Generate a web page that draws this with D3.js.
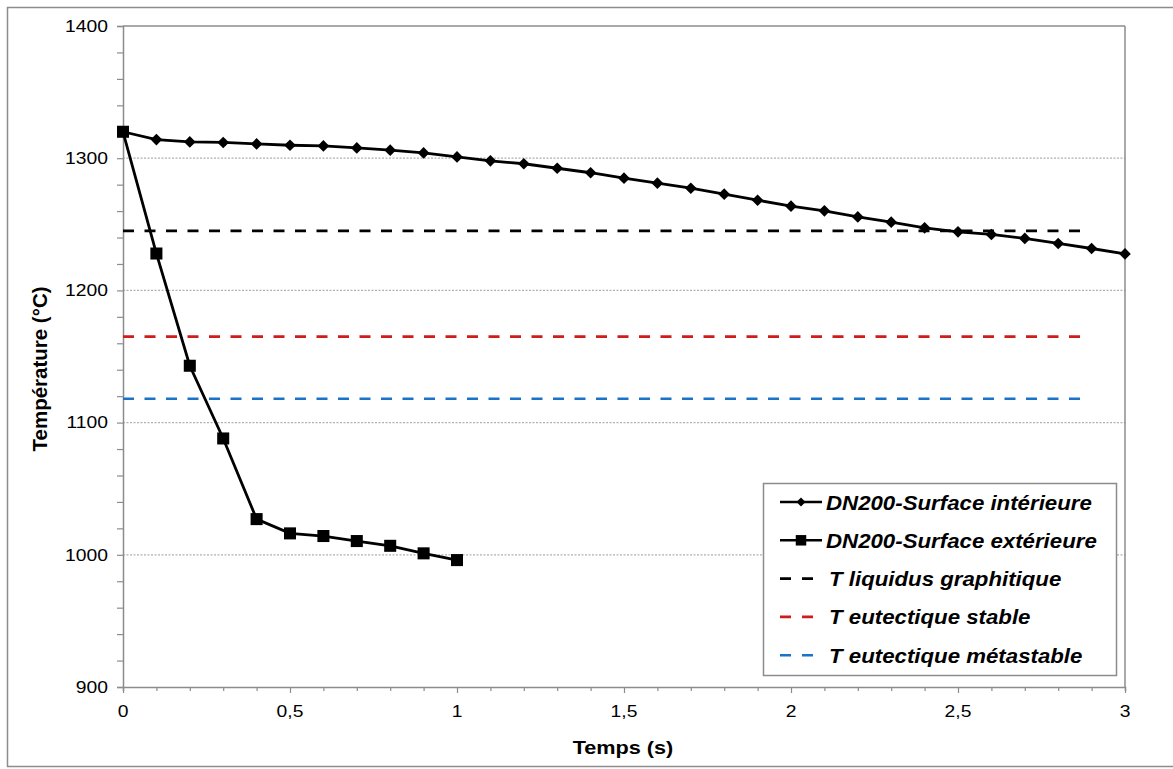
<!DOCTYPE html>
<html>
<head>
<meta charset="utf-8">
<script src="https://cdn.jsdelivr.net/npm/d3@7/dist/d3.min.js"></script>
<style>
  html, body { margin: 0; padding: 0; background: #fff; }
  svg { display: block; }
  text { font-family: "Liberation Sans", Arial, Helvetica, sans-serif; fill: #000; }
</style>
</head>
<body>
<svg id="chart" width="1173" height="769"></svg>
<script>
// ---- Data ----
const timeInner = [0,0.1,0.2,0.3,0.4,0.5,0.6,0.7,0.8,0.9,1.0,1.1,1.2,1.3,1.4,1.5,1.6,1.7,1.8,1.9,2.0,2.1,2.2,2.3,2.4,2.5,2.6,2.7,2.8,2.9,3.0];
const tempInner = [1320,1314.1,1312.3,1311.9,1310.8,1309.8,1309.3,1307.8,1306.1,1304,1301,1298,1295.8,1292.4,1289,1284.9,1281.1,1277.3,1272.8,1268.2,1263.7,1260.2,1255.6,1251.6,1247.3,1244.3,1242.3,1239.3,1235.5,1231.7,1227.6];
const timeOuter = [0,0.1,0.2,0.3,0.4,0.5,0.6,0.7,0.8,0.9,1.0];
const tempOuter = [1320,1227.9,1143,1088,1027,1016.2,1014.2,1010.4,1006.8,1001.1,996];
const refTimes = [0, 2.87];
const tLiquidus = 1245;
const tEutStable = 1165;
const tEutMeta = 1118;
const seriesNames = ["DN200-Surface intérieure","DN200-Surface extérieure","T liquidus graphitique","T eutectique stable","T eutectique métastable"];
const xTicks = [0,0.5,1,1.5,2,2.5,3];
const yTicks = [900,1000,1100,1200,1300,1400];
const xLabel = "Temps (s)";
const yLabel = "Température (°C)";

// ---- Layout ----
const svg = d3.select("#chart");
const L = 123, R = 1125, T = 26, B = 687;
const x = d3.scaleLinear().domain([0,3]).range([L,R]);
const y = d3.scaleLinear().domain([900,1400]).range([B,T]);
const fmt = d => String(d).replace(".", ",");
const axisColor = "#8c8c8c";
const FONT = '"Liberation Sans", Arial, sans-serif';
// horizontally widened text (reference glyphs are wider than plain Arial)
function wideText(parent, px, py, k, str) {
  return parent.append("g").attr("transform", `translate(${px},${py}) scale(${k},1)`)
    .append("text").attr("x", 0).attr("y", 0).text(str);
}

// outer frame
svg.append("rect").attr("x",7.5).attr("y",7.5).attr("width",1170).attr("height",759)
  .attr("fill","none").attr("stroke","#8c8c8c").attr("stroke-width",1.5);

// gridlines
svg.append("g").selectAll("line").data(yTicks.filter(d => d > 900 && d < 1400)).join("line")
  .attr("x1",L).attr("x2",R).attr("y1",d=>y(d)).attr("y2",d=>y(d))
  .attr("stroke","#b0b0b0").attr("stroke-width",1.2).attr("stroke-dasharray","2,1.5");

// plot border top/right
svg.append("line").attr("x1",L).attr("x2",R).attr("y1",T).attr("y2",T).attr("stroke",axisColor).attr("stroke-width",1.5);
svg.append("line").attr("x1",R).attr("x2",R).attr("y1",T).attr("y2",B).attr("stroke",axisColor).attr("stroke-width",1.5);

// Y axis
const yAxis = svg.append("g").attr("transform",`translate(${L},0)`)
  .call(d3.axisLeft(y).tickValues(d3.range(900,1401,20)).tickSize(6).tickFormat(""));
yAxis.select(".domain").attr("stroke",axisColor).attr("stroke-width",1.5);
yAxis.selectAll(".tick line").attr("stroke",axisColor).attr("stroke-width",1.2);
yTicks.forEach(v => {
  wideText(svg, L - 15, y(v), 1.17, v).attr("text-anchor","end").attr("dy","0.35em")
    .attr("font-size",16.5).style("font-family",FONT);
});

// X axis
const xAxis = svg.append("g").attr("transform",`translate(0,${B})`)
  .call(d3.axisBottom(x).tickValues(d3.range(0,31).map(i=>i/10)).tickSize(4).tickFormat(""));
xAxis.select(".domain").attr("stroke",axisColor).attr("stroke-width",1.5);
xAxis.selectAll(".tick line").attr("stroke",axisColor).attr("stroke-width",1.2)
  .attr("y2", d => xTicks.some(t => Math.abs(t-d)<1e-9) ? 6 : 4);
xTicks.forEach(v => {
  wideText(svg, x(v), B + 18, 1.17, fmt(v)).attr("text-anchor","middle").attr("dy","0.71em")
    .attr("font-size",16.5).style("font-family",FONT);
});

// reference dashed lines
const refs = [[tLiquidus,"#000"],[tEutStable,"#d01c1c"],[tEutMeta,"#1a73c8"]];
svg.append("g").selectAll("line").data(refs).join("line")
  .attr("x1",x(refTimes[0])).attr("x2",x(refTimes[1]))
  .attr("y1",d=>y(d[0])).attr("y2",d=>y(d[0]))
  .attr("stroke",d=>d[1]).attr("stroke-width",2.6).attr("stroke-dasharray","11,10.5");

// series lines
const line = d3.line().x(d=>x(d[0])).y(d=>y(d[1]));
const inner = timeInner.map((t,i)=>[t,tempInner[i]]);
const outer = timeOuter.map((t,i)=>[t,tempOuter[i]]);
svg.append("path").datum(inner).attr("d",line).attr("fill","none").attr("stroke","#000").attr("stroke-width",2.8);
svg.append("path").datum(outer).attr("d",line).attr("fill","none").attr("stroke","#000").attr("stroke-width",2.8);

svg.append("g").selectAll("path").data(inner).join("path")
  .attr("d", d3.symbol().type(d3.symbolSquare).size(68))
  .attr("transform",d=>`translate(${x(d[0])},${y(d[1])}) rotate(45)`)
  .attr("fill","#000");
svg.append("g").selectAll("path").data(outer).join("path")
  .attr("d", d3.symbol().type(d3.symbolSquare).size(145))
  .attr("transform",d=>`translate(${x(d[0])},${y(d[1])})`)
  .attr("fill","#000");

// legend
const lg = svg.append("g");
lg.append("rect").attr("x",763.5).attr("y",483.5).attr("width",353).attr("height",192)
  .attr("fill","#fff").attr("stroke","#8c8c8c").attr("stroke-width",1.5);
const legendItems = [
  {name:seriesNames[0], color:"#000", dash:null, sym:"diamond"},
  {name:seriesNames[1], color:"#000", dash:null, sym:"square"},
  {name:seriesNames[2], color:"#000", dash:"11,11", sym:null},
  {name:seriesNames[3], color:"#d01c1c", dash:"11,11", sym:null},
  {name:seriesNames[4], color:"#1a73c8", dash:"11,11", sym:null}
];
legendItems.forEach((it,i) => {
  const cy = 502 + i*38.3;
  const l = lg.append("line").attr("x1",780).attr("x2",822).attr("y1",cy).attr("y2",cy)
    .attr("stroke",it.color).attr("stroke-width",2.6);
  if (it.dash) l.attr("stroke-dasharray",it.dash);
  if (it.sym==="diamond") lg.append("path").attr("d",d3.symbol().type(d3.symbolSquare).size(40))
    .attr("transform",`translate(801,${cy}) rotate(45)`).attr("fill","#000");
  if (it.sym==="square") lg.append("path").attr("d",d3.symbol().type(d3.symbolSquare).size(110))
    .attr("transform",`translate(801,${cy})`).attr("fill","#000");
  wideText(lg, it.dash ? 829 : 826, cy, 1.06, it.name).attr("dy","0.36em")
    .attr("font-size",21).attr("font-weight","bold").attr("font-style","italic");
});

// axis titles
wideText(svg, (L+R)/2 - 1, 754, 1.14, xLabel).attr("text-anchor","middle")
  .attr("font-size",19).attr("font-weight","bold");
svg.append("text").attr("transform",`translate(47,369) rotate(-90)`).attr("text-anchor","middle")
  .attr("font-size",20.5).attr("font-weight","bold").text(yLabel);
</script>
</body>
</html>
